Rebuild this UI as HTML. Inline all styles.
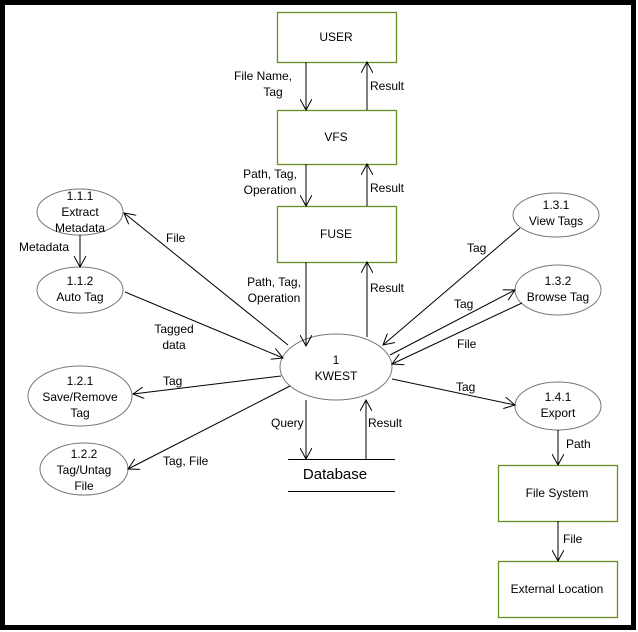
<!DOCTYPE html>
<html><head><meta charset="utf-8"><style>html,body{margin:0;padding:0;background:#fff}svg{display:block}</style></head><body>
<svg width="638" height="632" viewBox="0 0 638 632" xmlns="http://www.w3.org/2000/svg" font-family="Liberation Sans, Arial, sans-serif" font-size="12" fill="#000">
<defs><marker id="a" viewBox="0 0 12 12" refX="11" refY="6" markerWidth="12" markerHeight="12" orient="auto" markerUnits="userSpaceOnUse"><path d="M0,0 L11,6 L0,12" fill="none" stroke="#000" stroke-width="1"/></marker></defs>
<rect x="2.5" y="2.5" width="631" height="625" fill="#fff" stroke="#000" stroke-width="5"/>
<g fill="#fff" stroke="#6b8e23" stroke-width="1.3">
<rect x="277.5" y="12.5" width="119" height="50"/>
<rect x="277.5" y="110.5" width="119" height="54"/>
<rect x="277.5" y="206.5" width="119" height="56"/>
<rect x="498.5" y="465.5" width="119" height="56"/>
<rect x="498.5" y="561.5" width="119" height="56"/>
</g>
<g fill="#fff" stroke="#777" stroke-width="1">
<ellipse cx="336" cy="367" rx="56" ry="33"/>
<ellipse cx="80" cy="212" rx="43" ry="23"/>
<ellipse cx="80" cy="290" rx="43" ry="23"/>
<ellipse cx="80" cy="396" rx="52" ry="30"/>
<ellipse cx="84" cy="469" rx="44" ry="26"/>
<ellipse cx="556" cy="215" rx="43" ry="22"/>
<ellipse cx="558" cy="290" rx="43" ry="25"/>
<ellipse cx="558" cy="406" rx="43" ry="24"/>
</g>
<g stroke="#000" stroke-width="1" fill="none" marker-end="url(#a)">
<line x1="306" y1="62" x2="306" y2="110"/>
<line x1="367" y1="110" x2="367" y2="62"/>
<line x1="306" y1="164" x2="306" y2="206"/>
<line x1="367" y1="206" x2="367" y2="164"/>
<line x1="306" y1="262" x2="306" y2="346"/>
<line x1="367" y1="337" x2="367" y2="262"/>
<line x1="306" y1="400" x2="306" y2="459"/>
<line x1="366" y1="459" x2="366" y2="400"/>
<line x1="288" y1="345" x2="124" y2="213"/>
<line x1="125" y1="292" x2="283" y2="358"/>
<line x1="281" y1="376" x2="133" y2="394"/>
<line x1="290" y1="386" x2="128" y2="469"/>
<line x1="520" y1="228" x2="383" y2="345"/>
<line x1="390" y1="355" x2="515" y2="290"/>
<line x1="522" y1="303" x2="392" y2="364"/>
<line x1="392" y1="379" x2="515" y2="405"/>
<line x1="558" y1="430" x2="558" y2="465"/>
<line x1="558" y1="521" x2="558" y2="561"/>
<line x1="80" y1="235" x2="80" y2="267"/>
</g>
<g stroke="#000" stroke-width="1"><line x1="288" y1="459.5" x2="395" y2="459.5"/><line x1="288" y1="491.5" x2="395" y2="491.5"/></g>
<g text-anchor="middle">
<text x="336" y="41">USER</text><text x="336" y="141">VFS</text><text x="336" y="238">FUSE</text>
<text x="557" y="497">File System</text><text x="557" y="593">External Location</text>
<text x="336" y="364">1</text><text x="336" y="380">KWEST</text>
<text x="80" y="200">1.1.1</text><text x="80" y="216">Extract</text><text x="80" y="232">Metadata</text>
<text x="80" y="285">1.1.2</text><text x="80" y="301">Auto Tag</text>
<text x="80" y="385">1.2.1</text><text x="80" y="401">Save/Remove</text><text x="80" y="417">Tag</text>
<text x="84" y="458">1.2.2</text><text x="84" y="474">Tag/Untag</text><text x="84" y="490">File</text>
<text x="556" y="209">1.3.1</text><text x="556" y="225">View Tags</text>
<text x="558" y="285">1.3.2</text><text x="558" y="301">Browse Tag</text>
<text x="558" y="401">1.4.1</text><text x="558" y="417">Export</text>
<text x="335" y="479" font-size="15">Database</text>
<text x="263" y="80">File Name,</text><text x="273" y="96">Tag</text>
<text x="270" y="178">Path, Tag,</text><text x="270" y="194">Operation</text>
<text x="274" y="286">Path, Tag,</text><text x="274" y="302">Operation</text>
<text x="174" y="333">Tagged</text><text x="174" y="349">data</text>
</g>
<text x="370" y="90">Result</text><text x="370" y="192">Result</text><text x="370" y="292">Result</text><text x="368" y="427">Result</text>
<text x="271" y="427">Query</text>
<text x="166" y="242">File</text><text x="19" y="251">Metadata</text>
<text x="163" y="385">Tag</text><text x="163" y="465">Tag, File</text>
<text x="467" y="252">Tag</text><text x="454" y="308">Tag</text><text x="457" y="348">File</text>
<text x="456" y="391">Tag</text><text x="566" y="448">Path</text><text x="563" y="543">File</text>
</svg>
</body></html>
